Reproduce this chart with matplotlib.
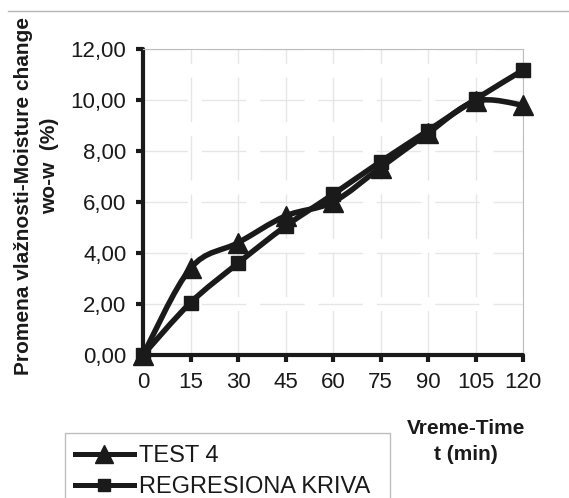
import numpy as np
import matplotlib
matplotlib.use("Agg")
import matplotlib.pyplot as plt
from matplotlib.path import Path
from matplotlib.patches import PathPatch, Rectangle
from matplotlib.lines import Line2D

plt.rcParams['font.family'] = ['Liberation Sans', 'DejaVu Sans']
plt.rcParams['lines.scale_dashes'] = False

# Time (min) and moisture change (%)
time_min = [0, 15, 30, 45, 60, 75, 90, 105, 120]
test4 = [0.00, 3.40, 4.40, 5.45, 6.00, 7.35, 8.70, 9.95, 9.80]
regression = [0.00, 2.05, 3.60, 5.05, 6.30, 7.58, 8.80, 10.03, 11.17]

y_ticks = [0, 2, 4, 6, 8, 10, 12]
y_tick_labels = ["0,00", "2,00", "4,00", "6,00", "8,00", "10,00", "12,00"]
series_labels = ["TEST 4", "REGRESIONA KRIVA"]

W, H = 569, 498
fig = plt.figure(figsize=(W / 100, H / 100), dpi=100)
ax = fig.add_axes([143 / W, 1 - 355 / H, (523 - 143) / W, (355 - 49) / H])


def smooth_path(xs, ys):
    """Catmull-Rom curve through the points, expressed as cubic Bezier segments."""
    pts = np.column_stack([xs, ys]).astype(float)
    n = len(pts)
    verts = [pts[0]]
    codes = [Path.MOVETO]
    for i in range(n - 1):
        p0 = pts[i - 1] if i > 0 else pts[i]
        p1 = pts[i]
        p2 = pts[i + 1]
        p3 = pts[i + 2] if i + 2 < n else pts[i + 1]
        c1 = p1 + (p2 - p0) / 6.0
        c2 = p2 - (p3 - p1) / 6.0
        verts += [c1, c2, p2]
        codes += [Path.CURVE4] * 3
    return Path(verts, codes)


ink = '#1a1a1a'
lw = 4.0
for ys, marker, ms in [(regression, 's', 10), (test4, '^', 14)]:
    ax.add_patch(PathPatch(smooth_path(time_min, ys), fill=False, edgecolor=ink,
                           linewidth=lw, capstyle='round', joinstyle='round', zorder=3))
    ax.plot(time_min, ys, linestyle='none', marker=marker, markersize=ms,
            color=ink, zorder=4, clip_on=False)

ax.set_xlim(0, 120)
ax.set_ylim(0, 12)
ax.set_xticks(time_min)
ax.set_xticklabels([str(t) for t in time_min])
ax.set_yticks(y_ticks)
ax.set_yticklabels(y_tick_labels)

ax.grid(True, color='#e6e6e6', linewidth=1.0, linestyle=(0, (32, 10)))
ax.set_axisbelow(True)

for side in ['left', 'bottom']:
    ax.spines[side].set_linewidth(3.0)
    ax.spines[side].set_color(ink)
    ax.spines[side].set_capstyle('round')
for side in ['top', 'right']:
    ax.spines[side].set_linewidth(0.8)
    ax.spines[side].set_color('#bdbdbd')

ax.tick_params(axis='both', direction='out', length=5, width=3, color=ink,
               labelsize=16, labelcolor=ink, pad=7)

# Axis titles
fig.text(24 / W, 1 - 196 / H, "Promena vlažnosti-Moisture change", rotation=90,
         ha='center', va='center', fontsize=15, fontweight='bold', color=ink)
fig.text(50 / W, 1 - 166 / H, "wo-w  (%)", rotation=90,
         ha='center', va='center', fontsize=15, fontweight='bold', color=ink)
fig.text(466 / W, 1 - 428 / H, "Vreme-Time", ha='center', va='center',
         fontsize=15, fontweight='bold', color=ink)
fig.text(466 / W, 1 - 454 / H, "t (min)", ha='center', va='center',
         fontsize=15, fontweight='bold', color=ink)

# Rule along the top edge
fig.add_artist(Line2D([8 / W, 1], [1 - 11 / H, 1 - 11 / H], color='#b5b5b5', linewidth=1.0))

# Legend box and entries
fig.add_artist(Rectangle((65 / W, -0.05), (390 - 65) / W, (1 - 433 / H) + 0.05,
                         transform=fig.transFigure, fill=False, edgecolor='#bdbdbd',
                         linewidth=1.0))
handles = [Line2D([], [], color=ink, linewidth=3.6, marker='^', markersize=13),
           Line2D([], [], color=ink, linewidth=3.6, marker='s', markersize=9)]
fig.legend(handles, series_labels, loc='upper left',
           bbox_to_anchor=(65 / W, 1 - 435 / H), frameon=False, fontsize=17,
           handlelength=2.5, handletextpad=0.2, labelspacing=0.38,
           borderpad=0.42, borderaxespad=0, labelcolor=ink)

fig.savefig("out.png", dpi=100)
